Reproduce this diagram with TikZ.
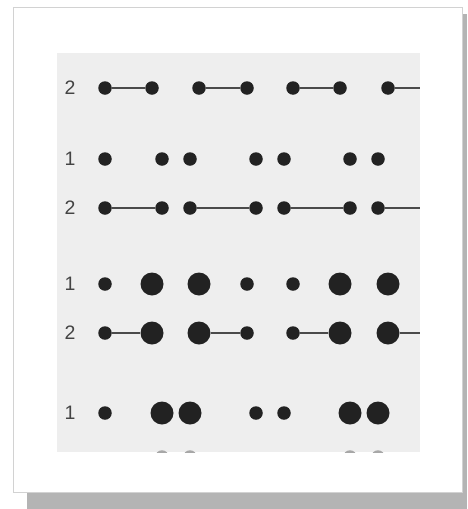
\documentclass[tikz,border=0pt]{standalone}
\usepackage{fontspec}
\setsansfont{Liberation Sans}
\usetikzlibrary{positioning}
\definecolor{panelgray}{HTML}{EEEEEE}
\definecolor{dotgray}{HTML}{222222}
\definecolor{linkgray}{HTML}{4A4A4A}
\definecolor{lblgray}{HTML}{444444}
\definecolor{shadowgray}{HTML}{B4B4B4}

\begin{document}
\begin{tikzpicture}[
    x=1pt, y=-1pt,
    dot/.style={circle, fill=dotgray, inner sep=0pt, minimum size=13.5pt},
    bigdot/.style={dot, minimum size=23pt},
    link/.style={draw=linkgray, line width=1.4pt},
    lbl/.style={font=\sffamily\fontsize{19.5}{19.5}\selectfont, text=lblgray}
]
\useasboundingbox (0,0) rectangle (467,509);
% card and shadow
\fill[shadowgray] (27,14) rectangle (467,509);
\draw[gray!35, fill=white] (13,7) rectangle (462,492);
\fill[panelgray] (57,53) rectangle (420,452);

% labels
\foreach \y/\n [count=\i] in {88/2, 159/1, 208/2, 284/1, 333/2, 413/1}
    \node[lbl] (lbl\i) at (70,\y) {\n};

% rows of dots
\foreach \x/\s [count=\i] in {105/dot, 152/dot, 199/dot, 247/dot, 293/dot, 340/dot, 388/dot} {
    \node[\s] (a\i) at (\x,88) {};
}
\foreach \x/\s [count=\i] in {105/dot, 162/dot, 190/dot, 256/dot, 284/dot, 350/dot, 378/dot} {
    \node[\s] (b\i) at (\x,159) {};
    \node[\s] (c\i) at (\x,208) {};
}
\foreach \x/\s [count=\i] in {105/dot, 152/bigdot, 199/bigdot, 247/dot, 293/dot, 340/bigdot, 388/bigdot} {
    \node[\s] (d\i) at (\x,284) {};
    \node[\s] (e\i) at (\x,333) {};
}
\foreach \x/\s [count=\i] in {105/dot, 162/bigdot, 190/bigdot, 256/dot, 284/dot, 350/bigdot, 378/bigdot}
    \node[\s] (f\i) at (\x,413) {};

% links
\coordinate (aend) at (420,88);
\coordinate (cend) at (420,208);
\coordinate (eend) at (420,333);
\foreach \r in {a, c, e} {
    \draw[link] (\r1) -- (\r2);
    \draw[link] (\r3) -- (\r4);
    \draw[link] (\r5) -- (\r6);
    \draw[link] (\r7) -- (\r end);
}

% next row, cut off by the panel
\begin{scope}
    \clip (57,53) rectangle (420,452);
    \foreach \x [count=\i] in {162, 190, 350, 378}
        \node[dot, fill=dotgray!40] (g\i) at (\x,457) {};
\end{scope}
\end{tikzpicture}
\end{document}
